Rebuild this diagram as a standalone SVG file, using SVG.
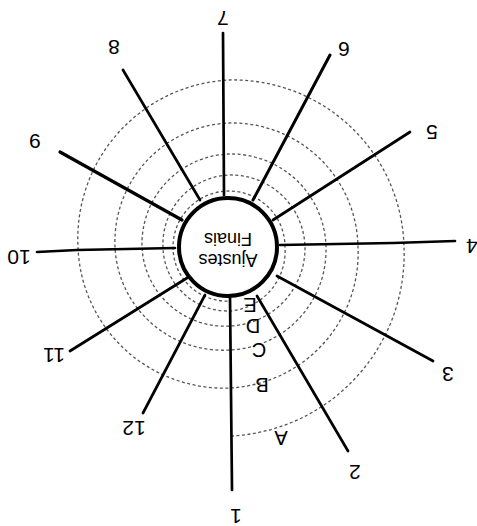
<svg xmlns="http://www.w3.org/2000/svg" width="477" height="526" viewBox="0 0 477 526">
<style>
.sp{stroke:#000;stroke-width:2.7;stroke-linecap:round;fill:none}
.ring{fill:none;stroke:#555;stroke-width:1.3;stroke-dasharray:3 2.5}
.lb{font-family:"Liberation Sans",Arial,sans-serif;font-size:21px;fill:#000;text-anchor:middle;dominant-baseline:central}
.lt{font-family:"Liberation Sans",Arial,sans-serif;font-size:20px;fill:#000;text-anchor:middle;dominant-baseline:central}
</style>
<rect width="477" height="526" fill="#fff"/>
<g id="spiral">
<path class="ring" d="M231,436 A182,182 0 0 0 404,247 A171,171 0 0 0 229,80 A159,159 0 0 0 78,247 A146,146 0 0 0 230,388 A135,135 0 0 0 358,247 A126,126 0 0 0 229,123 A119,119 0 0 0 115,247 A108,108 0 0 0 230,350 A100,100 0 0 0 326,247 A95,95 0 0 0 229,154 A90,90 0 0 0 142,247 A83,83 0 0 0 230,326 A78,78 0 0 0 305,247 A74,74 0 0 0 229,175 A69,69 0 0 0 163,247 A65,65 0 0 0 230,311 A60,60 0 0 0 285,247 A56,56 0 0 0 229,191 A56,56 0 0 0 173,247 A54,54 0 0 0 230,301"/>
</g>
<g id="connectors">
<line class="sp" x1="230" y1="297" x2="232" y2="490"/>
<line class="sp" x1="257" y1="296" x2="348" y2="451"/>
<line class="sp" x1="277" y1="276" x2="433" y2="361"/>
<polyline class="sp" points="280,245 393,243 455,241"/>
<line class="sp" x1="273" y1="220" x2="410" y2="132"/>
<line class="sp" x1="253" y1="200" x2="330" y2="55" style="stroke-width:3"/>
<line class="sp" x1="224" y1="195" x2="223" y2="33"/>
<line class="sp" x1="200" y1="200" x2="123" y2="70"/>
<line class="sp" x1="182" y1="220" x2="60" y2="152" style="stroke-width:3.2"/>
<polyline class="sp" points="175,248 77,250 37,252"/>
<line class="sp" x1="187" y1="278" x2="70" y2="351"/>
<line class="sp" x1="205" y1="295" x2="143" y2="413"/>
</g>
<g id="center">
<circle cx="228" cy="247" r="49" fill="#fff" stroke="#000" stroke-width="4"/>
<g transform="rotate(180 228 248)" style="font-family:'Liberation Sans',Arial,sans-serif;font-size:18px;text-anchor:middle">
<text x="228" y="242">Ajustes</text>
<text x="228" y="263">Finais</text>
</g>
</g>
<g id="labels">
<text class="lb" x="236" y="516" transform="rotate(180 236 516)">1</text>
<text class="lb" x="355" y="472" transform="rotate(180 355 472)">2</text>
<text class="lb" x="448" y="374" transform="rotate(180 448 374)">3</text>
<text class="lb" x="472" y="246" transform="rotate(180 472 246)">4</text>
<text class="lb" x="432" y="132" transform="rotate(180 432 132)">5</text>
<text class="lb" x="344" y="49" transform="rotate(180 344 49)">6</text>
<text class="lb" x="223" y="18" transform="rotate(180 223 18)">7</text>
<text class="lb" x="114" y="47" transform="rotate(180 114 47)">8</text>
<text class="lb" x="35" y="141" transform="rotate(180 35 141)">9</text>
<text class="lb" x="19" y="257" transform="rotate(180 19 257)">10</text>
<text class="lb" x="54" y="355" transform="rotate(180 54 355)">11</text>
<text class="lb" x="134" y="428" transform="rotate(180 134 428)">12</text>
<text class="lt" x="281" y="438" transform="rotate(180 281 438)">A</text>
<text class="lt" x="262" y="385" transform="rotate(180 262 385)">B</text>
<text class="lt" x="259" y="350" transform="rotate(180 259 350)">C</text>
<text class="lt" x="253" y="326" transform="rotate(180 253 326)">D</text>
<text class="lt" x="250" y="305" transform="rotate(180 250 305)">E</text>
</g>
</svg>
